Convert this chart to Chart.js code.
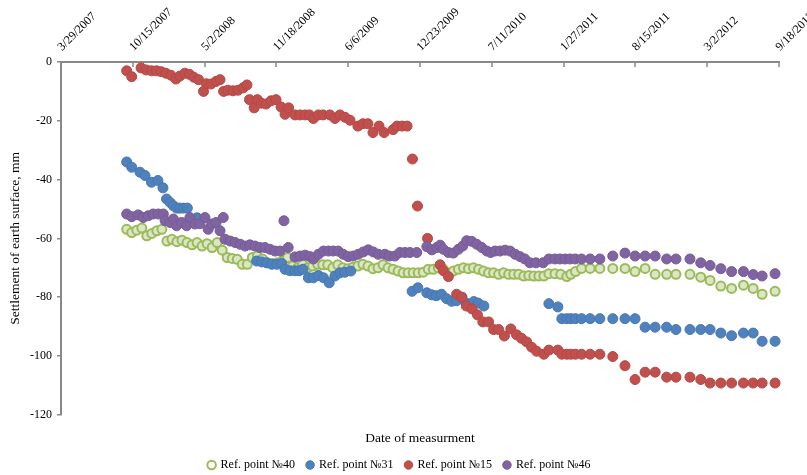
<!DOCTYPE html>
<html>
<head>
<meta charset="utf-8">
<script src="https://cdn.jsdelivr.net/npm/chart.js@4.4.1/dist/chart.umd.min.js"></script>
<style>
  html, body { margin: 0; padding: 0; background: #ffffff; }
  #wrap { width: 807px; height: 475px; overflow: hidden; }
</style>
</head>
<body>
<div id="wrap"><canvas id="chart" width="807" height="475"></canvas></div>
<script>
// Date axis ticks (every 200 days)
const axisTicks = ['2007-03-29', '2007-10-15', '2008-05-02', '2008-11-18', '2009-06-06', '2009-12-23',
  '2010-07-11', '2011-01-27', '2011-08-15', '2012-03-02', '2012-09-18'];

// Monthly survey dates from spring 2011 on (shared by all points)
const monthlyDates = ['2011-04-11', '2011-05-08', '2011-06-13', '2011-07-17', '2011-08-14', '2011-09-11',
  '2011-10-09', '2011-11-10', '2011-12-06', '2012-01-14', '2012-02-13', '2012-03-10', '2012-04-09',
  '2012-05-09', '2012-06-11', '2012-07-08', '2012-08-02', '2012-09-07'];

// Ref. point №40
const p40Dates = ['2007-09-28', '2007-10-12', '2007-10-26', '2007-11-09', '2007-11-23', '2007-12-07', '2007-12-21',
  '2008-01-04', '2008-01-18', '2008-02-01', '2008-02-15', '2008-02-29', '2008-03-14', '2008-03-28', '2008-04-11',
  '2008-04-25', '2008-05-09', '2008-05-23', '2008-06-06', '2008-06-20', '2008-07-04', '2008-07-18', '2008-08-01',
  '2008-08-15', '2008-08-29', '2008-09-12', '2008-09-26', '2008-10-10', '2008-10-24', '2008-11-07', '2008-11-21',
  '2008-12-05', '2008-12-19', '2009-01-02', '2009-01-16', '2009-01-30', '2009-02-13', '2009-02-27', '2009-03-13',
  '2009-03-27', '2009-04-10', '2009-04-24', '2009-05-08', '2009-05-22', '2009-06-05', '2009-06-19', '2009-07-03',
  '2009-07-17', '2009-07-31', '2009-08-14', '2009-08-28', '2009-09-11', '2009-09-25', '2009-10-09', '2009-10-23',
  '2009-11-06', '2009-11-20', '2009-12-04', '2009-12-18', '2010-01-01', '2010-01-15', '2010-01-29', '2010-02-12',
  '2010-02-26', '2010-03-12', '2010-03-26', '2010-04-09', '2010-04-23', '2010-05-07', '2010-05-21', '2010-06-04',
  '2010-06-18', '2010-07-02', '2010-07-16', '2010-07-30', '2010-08-13', '2010-08-27', '2010-09-10', '2010-09-24',
  '2010-10-08', '2010-10-22', '2010-11-05', '2010-11-19', '2010-12-03', '2010-12-17', '2011-01-03', '2011-01-19',
  '2011-02-05', '2011-02-16', '2011-03-01', '2011-03-18', ...monthlyDates];
const p40Values = [-56.9, -58, -57.2, -56.5, -59.1, -58.3, -57.4, -56.9, -60.9, -60.3,
  -61.1, -60.6, -61.4, -62.2, -61.4, -62.6, -61.8, -63.1, -61.4, -64,
  -66.5, -66.8, -67.1, -68.8, -68.8, -66.5, -66, -67, -68.3, -68.5,
  -68.3, -67.7, -66.5, -69.4, -70, -68.8, -70, -69.4, -68.8, -69,
  -69, -70, -69, -70, -70.3, -69.8, -69.4, -68.8, -69.4, -70.3,
  -70, -69, -70, -70.5, -71.1, -71.7, -71.7, -71.7, -71.7, -71.5,
  -70.5, -70.5, -70, -70.5, -71.7, -71.1, -70.5, -70, -70.3, -70,
  -70.5, -71.1, -71.7, -71.7, -72.2, -71.7, -72.2, -72.2, -72.2, -72.8,
  -72.6, -72.8, -72.8, -72.8, -72, -72, -72.2, -73, -72.2, -71.3,
  -70.2,
  -70.2, -70.2, -70.2, -70.2, -71.3, -70.2, -72.2, -72.2, -72.2, -72.2,
  -73.2, -74.3, -76.2, -77, -75.9, -77, -79, -78];

// Ref. point №31
const p31Dates = ['2007-09-28', '2007-10-12', '2007-11-04', '2007-11-18', '2007-12-06', '2007-12-24', '2008-01-07',
  '2008-01-17', '2008-01-27', '2008-02-05', '2008-02-14', '2008-02-23', '2008-03-04', '2008-03-15', '2008-04-11',
  '2008-09-24', '2008-10-08', '2008-10-22', '2008-11-05', '2008-11-19', '2008-12-03', '2008-12-12', '2008-12-26',
  '2009-01-09', '2009-01-20', '2009-01-31', '2009-02-15', '2009-03-01', '2009-03-15', '2009-03-29', '2009-04-14',
  '2009-04-30', '2009-05-14', '2009-05-28', '2009-06-13', '2009-12-01', '2009-12-17', '2010-01-11', '2010-01-25',
  '2010-02-06', '2010-02-21', '2010-03-07', '2010-03-21', '2010-04-04', '2010-04-19', '2010-04-30', '2010-05-11',
  '2010-05-22', '2010-06-03', '2010-06-19', '2010-12-17', '2011-01-11', '2011-01-22', '2011-02-05', '2011-02-16',
  '2011-03-01', '2011-03-18', ...monthlyDates];
const p31Values = [-34, -35.8, -37.5, -38.6, -40.9, -40.3, -42.8, -46.6, -47.8, -48.9,
  -49.7, -49.7, -49.7, -49.7, -53, -67.7, -68, -68.3, -68.8, -68.8,
  -68.5, -70.5, -71, -71, -71, -70.5, -73.4, -73.4, -72.6, -73.4,
  -75.1, -72.8, -71.7, -71.5, -71.1, -78, -76.8, -78.5, -79.2, -79.5,
  -79, -80.5, -81.4, -81.2, -80, -82, -82.3, -81.5, -82, -83,
  -82.2, -83.3, -87.3, -87.3, -87.3, -87.3, -87.3,
  -87.3, -87.3, -87.3, -87.3, -87.3, -90.2, -90.2, -90.2, -91, -91,
  -91, -91, -92.2, -93.1, -92.2, -92.2, -95, -95];

// Ref. point №15
const p15Dates = ['2007-09-28', '2007-10-12', '2007-11-07', '2007-11-21', '2007-12-06', '2007-12-20', '2008-01-02',
  '2008-01-15', '2008-01-29', '2008-02-12', '2008-02-23', '2008-03-08', '2008-03-21', '2008-04-02', '2008-04-15',
  '2008-04-29', '2008-05-07', '2008-05-20', '2008-06-03', '2008-06-14', '2008-06-24', '2008-07-06', '2008-07-20',
  '2008-08-03', '2008-08-17', '2008-08-28', '2008-09-04', '2008-09-17', '2008-09-26', '2008-10-07', '2008-10-20',
  '2008-11-03', '2008-11-17', '2008-12-01', '2008-12-12', '2008-12-22', '2009-01-09', '2009-01-23', '2009-02-06',
  '2009-02-18', '2009-03-01', '2009-03-15', '2009-03-28', '2009-04-16', '2009-04-30', '2009-05-14', '2009-05-28',
  '2009-06-11', '2009-07-03', '2009-07-17', '2009-07-31', '2009-08-14', '2009-08-31', '2009-09-14', '2009-10-09',
  '2009-10-20', '2009-11-03', '2009-11-17', '2009-12-02', '2009-12-16', '2010-01-13', '2010-02-17', '2010-02-26',
  '2010-03-12', '2010-04-04', '2010-04-18', '2010-05-01', '2010-05-17', '2010-06-01', '2010-06-16', '2010-07-02',
  '2010-07-16', '2010-07-30', '2010-08-15', '2010-09-02', '2010-09-18', '2010-10-02', '2010-10-16', '2010-10-30',
  '2010-11-13', '2010-12-03', '2010-12-17', '2011-01-11', '2011-01-22', '2011-02-05', '2011-02-16', '2011-03-01',
  '2011-03-18', ...monthlyDates];
const p15Values = [-3, -5, -2, -2.7, -3, -3, -3.3, -3.8, -4.5, -5.8,
  -4.8, -3.8, -4.2, -5.2, -6, -10, -7.4, -7.5, -6.6, -6,
  -10, -9.6, -9.8, -9.6, -8.8, -7.8, -12.8, -15.6, -12.8, -14,
  -14.3, -13.2, -12.8, -15.3, -17.8, -15.6, -18, -18, -18, -18,
  -19.2, -18, -18, -18, -19.2, -18, -18.8, -19.8, -21.8, -21,
  -21, -24, -21.8, -24, -23, -21.8, -21.8, -21.8, -33, -49,
  -60, -69, -71, -73, -79, -80, -83, -84, -86, -88.4,
  -88.4, -91, -91, -93.2, -90.8, -92.8, -94, -95.2, -97, -98.4,
  -99.4, -98, -98, -99.4, -99.4, -99.4, -99.4, -99.4,
  -99.4, -99.4, -100.2, -103.3, -108, -105.5, -105.5, -107.2, -107.2, -107.2,
  -108, -109.2, -109.2, -109.2, -109.2, -109.2, -109.2, -109.2];

// Ref. point №46
const p46Dates = ['2007-09-28', '2007-10-12', '2007-10-30', '2007-11-13', '2007-11-27', '2007-12-11', '2007-12-25',
  '2008-01-08', '2008-01-13', '2008-01-27', '2008-02-05', '2008-02-14', '2008-02-28', '2008-03-13', '2008-03-22',
  '2008-04-05', '2008-04-19', '2008-05-03', '2008-05-12', '2008-05-22', '2008-06-03', '2008-06-14', '2008-06-23',
  '2008-06-28', '2008-07-12', '2008-07-26', '2008-08-09', '2008-08-23', '2008-09-05', '2008-09-19', '2008-10-03',
  '2008-10-17', '2008-10-31', '2008-11-14', '2008-11-28', '2008-12-09', '2008-12-21', '2009-01-09', '2009-01-23',
  '2009-02-06', '2009-02-20', '2009-03-01', '2009-03-15', '2009-03-29', '2009-04-12', '2009-04-25', '2009-05-09',
  '2009-05-23', '2009-06-06', '2009-06-20', '2009-07-04', '2009-07-18', '2009-08-01', '2009-08-15', '2009-08-29',
  '2009-09-16', '2009-09-28', '2009-10-14', '2009-10-28', '2009-11-11', '2009-11-25', '2009-12-14', '2010-01-11',
  '2010-01-25', '2010-02-08', '2010-02-17', '2010-02-26', '2010-03-12', '2010-03-26', '2010-04-09', '2010-04-21',
  '2010-05-02', '2010-05-16', '2010-05-30', '2010-06-13', '2010-06-27', '2010-07-08', '2010-07-20', '2010-08-03',
  '2010-08-17', '2010-08-31', '2010-09-14', '2010-09-28', '2010-10-11', '2010-10-25', '2010-11-11', '2010-12-01',
  '2010-12-17', '2011-01-03', '2011-01-17', '2011-01-31', '2011-02-14', '2011-02-28', '2011-03-18', ...monthlyDates];
const p46Values = [-51.7, -52.6, -52, -52.9, -52.3, -51.7, -51.7, -51.7, -54, -54.6,
  -53.4, -55.7, -54.6, -55.7, -52.9, -55.1, -55, -52.9, -56.9, -55.1,
  -54.6, -57.4, -52.9, -60.3, -60.9, -61.4, -62, -62.6, -62.2, -62.6,
  -63.1, -63.1, -63.7, -64.3, -64.3, -54, -63.1, -66.3, -66, -65.7,
  -66.2, -67, -65.4, -64.3, -64.3, -64.3, -64.3, -65.4, -66.2, -66,
  -65.4, -64.6, -63.9, -64.6, -65.4, -65.4, -66, -66, -64.8, -64.8,
  -64.8, -64.8, -62.8, -63.9, -63.1, -62.3, -63.7, -64.8, -65, -63.7,
  -62.6, -60.8, -61, -62, -63.1, -64.3, -64.8, -64.3, -64.3, -64,
  -64.3, -65.4, -66.2, -67, -68.3, -68.3, -68.3, -67, -67, -67,
  -67, -67, -67, -67,
  -67, -67, -66, -65, -66, -66, -66, -67, -67, -67,
  -68.3, -69.2, -70.3, -71.3, -71.3, -72.3, -72.8, -72];

const SERIF = '"Liberation Serif", "Times New Roman", serif';
const AXIS = '#898989';

// Calendar date <-> day number
const dayNum = s => Date.UTC(+s.slice(0, 4), +s.slice(5, 7) - 1, +s.slice(8, 10)) / 86400000;
const fmtDay = v => {
  const d = new Date(Math.round(v) * 86400000);
  return (d.getUTCMonth() + 1) + '/' + d.getUTCDate() + '/' + d.getUTCFullYear();
};
const toPoints = (dates, values) => dates.map((d, i) => ({ x: dayNum(d), y: values[i] }));

// Short tick marks pointing down into the plot from the top date axis
const innerTicks = {
  id: 'innerTicks',
  beforeDatasetsDraw(chart) {
    const sx = chart.scales.x, ctx = chart.ctx;
    ctx.save();
    ctx.strokeStyle = AXIS;
    ctx.lineWidth = 1.5;
    sx.ticks.forEach(t => {
      const px = Math.round(sx.getPixelForValue(t.value));
      ctx.beginPath();
      ctx.moveTo(px, sx.bottom);
      ctx.lineTo(px, sx.bottom + 5);
      ctx.stroke();
    });
    ctx.restore();
  }
};

// Centre the axis title under the plot area and nudge the legend
const placeBlocks = {
  id: 'placeBlocks',
  afterLayout(chart) {
    const area = chart.chartArea;
    const t = chart.titleBlock;
    if (t) {
      const shift = (area.left + area.right) / 2 - (t.left + t.right) / 2;
      t.left += shift; t.right += shift;
    }
    const lg = chart.legend;
    if (lg) { lg.left += 10; lg.right += 10; }
  }
};

const series = [
  { label: 'Ref. point №40', dates: p40Dates, values: p40Values, fill: '#dbe6c6', stroke: '#9bbb59', r: 4.5, bw: 2, order: 4 },
  { label: 'Ref. point №31', dates: p31Dates, values: p31Values, fill: '#4f81bd', stroke: '#4677b3', r: 5, bw: 1, order: 3 },
  { label: 'Ref. point №15', dates: p15Dates, values: p15Values, fill: '#c0504d', stroke: '#b54845', r: 5, bw: 1, order: 2 },
  { label: 'Ref. point №46', dates: p46Dates, values: p46Values, fill: '#8064a2', stroke: '#765b98', r: 5, bw: 1, order: 1 }
];

new Chart(document.getElementById('chart'), {
  type: 'scatter',
  data: {
    datasets: series.map(s => ({
      label: s.label,
      data: toPoints(s.dates, s.values),
      pointRadius: s.r,
      pointHoverRadius: s.r,
      pointBorderWidth: s.bw,
      pointBackgroundColor: s.fill,
      pointBorderColor: s.stroke,
      backgroundColor: s.fill,
      borderColor: s.stroke,
      showLine: false,
      clip: false,
      order: s.order
    }))
  },
  options: {
    responsive: false,
    animation: false,
    devicePixelRatio: 1,
    layout: { padding: { left: 0, right: 28, top: 0, bottom: -6 } },
    scales: {
      x: {
        type: 'linear',
        position: 'top',
        min: dayNum(axisTicks[0]),
        max: dayNum(axisTicks[axisTicks.length - 1]),
        afterBuildTicks: sc => { sc.ticks = axisTicks.map(d => ({ value: dayNum(d) })); },
        afterFit: sc => { sc.height = 62; sc.paddingLeft = 0; sc.paddingRight = 0; },
        grid: { display: false },
        border: { display: true, color: AXIS, width: 2 },
        ticks: {
          autoSkip: false, minRotation: 45, maxRotation: 45, padding: 0, labelOffset: 9,
          color: '#000', font: { family: SERIF, size: 12 },
          callback: v => fmtDay(v)
        }
      },
      y: {
        min: -120,
        max: 0,
        afterFit: sc => { sc.width = 61; },
        grid: { display: true, drawOnChartArea: false, drawTicks: true, tickLength: 4, color: AXIS, lineWidth: 1.5 },
        border: { display: true, color: AXIS, width: 2 },
        ticks: { stepSize: 20, padding: 5, color: '#000', font: { family: SERIF, size: 12 } },
        title: {
          display: true, text: 'Settlement of earth surface, mm', color: '#000',
          font: { family: SERIF, size: 13.5 }, padding: { top: 7, bottom: 0 }
        }
      }
    },
    plugins: {
      tooltip: { enabled: false },
      title: {
        display: true, position: 'bottom', text: 'Date of measurment', weight: 500,
        color: '#000', font: { family: SERIF, size: 13.5, weight: 'normal' }, padding: { top: 16, bottom: 0 }
      },
      legend: {
        position: 'bottom',
        labels: {
          usePointStyle: true, boxWidth: 6, boxHeight: 6, padding: 12,
          color: '#000', font: { family: SERIF, size: 12 },
          sort: (a, b) => a.datasetIndex - b.datasetIndex,
          generateLabels: chart => {
            const items = Chart.defaults.plugins.legend.labels.generateLabels(chart);
            items.forEach(it => { if (it.datasetIndex === 0) it.fillStyle = '#ffffff'; });
            return items;
          }
        }
      }
    }
  },
  plugins: [innerTicks, placeBlocks]
});
</script>
</body>
</html>
